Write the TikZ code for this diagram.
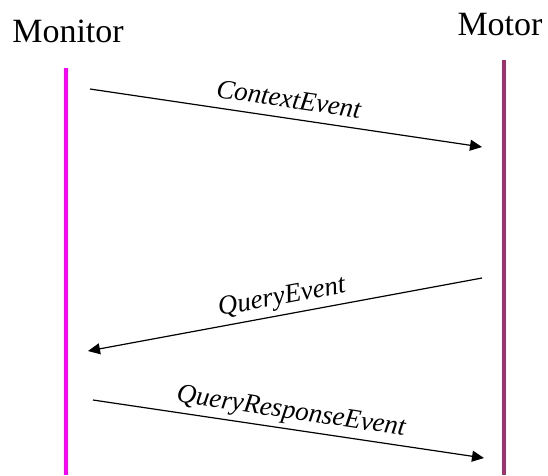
\documentclass[tikz,border=0pt]{standalone}
\usepackage{fontspec}
\setmainfont{Liberation Serif}
\usetikzlibrary{arrows.meta}

\definecolor{colmonitor}{RGB}{255,0,255}
\definecolor{colmotor}{RGB}{158,50,110}

\tikzset{
  titulo/.style={anchor=base,font=\fontsize{34}{36}\selectfont},
  vida/.style={line width=4pt},
  mensaje/.style={line width=1.2pt,-{Triangle[length=12pt,width=11pt]}},
  etiqueta/.style={sloped,above=4pt,font=\fontsize{27}{29}\selectfont\itshape,
    text height=0.7em,text depth=0.25em}
}

\begin{document}
\begin{tikzpicture}[x=1pt,y=-1pt]
  \useasboundingbox (0,0) rectangle (548,475);

  % Participantes
  \node[titulo] (monitor) at (68,42) {Monitor};
  \node[titulo] (motor) at (500,35) {Motor};

  % Lineas de vida
  \coordinate (monarriba) at (66,68);
  \coordinate (monabajo) at (66,475);
  \coordinate (motarriba) at (504,60);
  \coordinate (motabajo) at (504,475);
  \draw[vida,colmonitor] (monarriba) -- (monabajo);
  \draw[vida,colmotor] (motarriba) -- (motabajo);

  % Mensajes
  \coordinate (ctxini) at (90,89);
  \coordinate (ctxfin) at (482,147);
  \coordinate (qryini) at (482,278);
  \coordinate (qryfin) at (88,351);
  \coordinate (resini) at (93,400);
  \coordinate (resfin) at (484,458);
  \draw[mensaje] (ctxini) -- (ctxfin) node[etiqueta,midway] {ContextEvent};
  \draw[mensaje] (qryini) -- (qryfin) node[etiqueta,midway] {QueryEvent};
  \draw[mensaje] (resini) -- (resfin) node[etiqueta,midway] {QueryResponseEvent};
\end{tikzpicture}
\end{document}
